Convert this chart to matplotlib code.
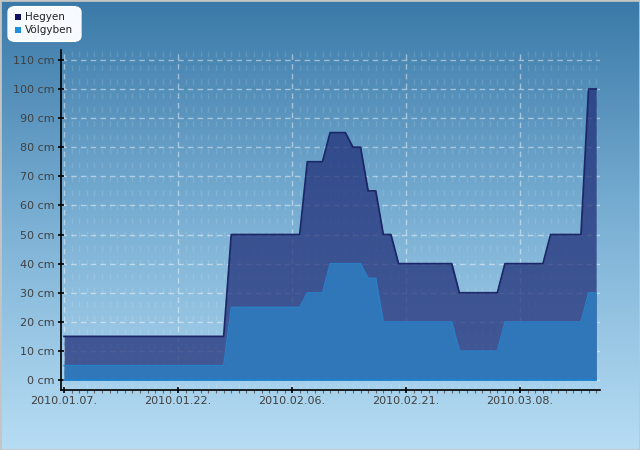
import numpy as np
import matplotlib
matplotlib.use("Agg")
import matplotlib.pyplot as plt
import matplotlib.dates as mdates
from matplotlib.colors import LinearSegmentedColormap
from matplotlib.patches import FancyBboxPatch
import datetime as dt

# ---- data (daily readings, cm) ----
start_date = "2010-01-07"
hegyen = [15] * 22 + [50] * 10 + [75] * 3 + [85] * 3 + [80] * 2 + [65] * 2 + \
         [50] * 2 + [40] * 8 + [30] * 6 + [40] * 6 + [50] * 5 + [100] * 2
volgyben = [5] * 22 + [25] * 10 + [30] * 3 + [40] * 5 + [35] * 2 + \
           [20] * 10 + [10] * 6 + [20] * 11 + [30] * 2
series_names = ["Hegyen", "Völgyben"]
y_ticks = list(range(0, 111, 10))
x_tick_labels = ["2010.01.07.", "2010.01.22.", "2010.02.06.", "2010.02.21.", "2010.03.08."]

d0 = dt.datetime.strptime(start_date, "%Y-%m-%d")
dates = [d0 + dt.timedelta(days=i) for i in range(len(hegyen))]
xnum = mdates.date2num(dates)

fig = plt.figure(figsize=(6.4, 4.5), dpi=100)

# background gradient
bg = fig.add_axes([0, 0, 1, 1], zorder=-10)
cmap = LinearSegmentedColormap.from_list("bg", ["#3a79a8", "#7cb1d5", "#b7ddf4"])
grad = np.linspace(0, 1, 256).reshape(-1, 1)
bg.imshow(grad, aspect="auto", cmap=cmap, extent=[0, 1, 0, 1], origin="upper")
bg.set_axis_off()
bg.add_patch(plt.Rectangle((0, 0), 1, 1, transform=bg.transAxes, fill=False,
                           edgecolor="#c4c4c4", linewidth=2, clip_on=False))

ax = fig.add_axes([61 / 640, 60 / 450, 539 / 640, 340 / 450])
ax.patch.set_alpha(0)

h_fill = "#223079"
v_fill = "#2f79ba"
ax.fill_between(xnum, 0, hegyen, color=h_fill, alpha=0.75, linewidth=0, zorder=2)
ax.plot(xnum, hegyen, color="#1b2767", linewidth=1.3, zorder=3)
ax.fill_between(xnum, 0, volgyben, color=v_fill, alpha=0.96, linewidth=0, zorder=4)
ax.plot(xnum, volgyben, color="#2a7fc6", linewidth=1.0, zorder=5)
ax.plot([xnum[0], xnum[-1]], [0, 0], color="#1c84d4", linewidth=1.2, zorder=5)

ax.set_xlim(xnum[0] - 0.4, xnum[0] + 70.5)
ax.set_ylim(-3.4, 113.4)

ax.set_yticks(y_ticks)
ax.set_yticklabels([f"{v} cm" for v in y_ticks])
major_x = [xnum[0] + 15 * i for i in range(len(x_tick_labels))]
ax.set_xticks(major_x)
ax.set_xticklabels(x_tick_labels)
ax.set_xticks(xnum, minor=True)

for s in ["top", "right"]:
    ax.spines[s].set_visible(False)
for s in ["left", "bottom"]:
    ax.spines[s].set_color("black")
    ax.spines[s].set_linewidth(1.2)
    ax.spines[s].set_zorder(8)

ax.tick_params(axis="both", which="major", direction="inout", length=5, width=1.2,
               colors="black", labelcolor="#404040", labelsize=8)
ax.tick_params(axis="x", which="minor", direction="out", length=2.5, width=0.8,
               colors="#666666")
ax.tick_params(axis="x", which="major", pad=2)
ax.tick_params(axis="y", which="major", pad=2)

ax.set_axisbelow(True)
ax.grid(True, which="major", axis="both", color="white", alpha=0.45,
        linestyle=(0, (4, 3)), linewidth=1)
ax.grid(True, which="minor", axis="x", color="white", alpha=0.12,
        linestyle=(0, (4, 6)), linewidth=1)
for gl in ax.get_xgridlines() + ax.get_ygridlines():
    gl.set_zorder(1)

# legend
bg.add_patch(FancyBboxPatch((10 / 640, 1 - 40 / 450), 69 / 640, 32 / 450,
                            boxstyle="round,pad=0.003,rounding_size=0.012",
                            facecolor="#f7fbff", edgecolor="white", linewidth=1,
                            transform=bg.transAxes, zorder=5))
leg_colors = ["#101060", "#1e90dc"]
for i, (name, c) in enumerate(zip(series_names, leg_colors)):
    yy = 1 - (17 + 13 * i) / 450
    bg.add_patch(plt.Rectangle((15 / 640, yy - 3.2 / 450), 6 / 640, 6 / 450,
                               facecolor=c, edgecolor="none",
                               transform=bg.transAxes, zorder=6))
    bg.text(25 / 640, yy, name, transform=bg.transAxes, fontsize=7.5,
            color="#222222", va="center", ha="left", zorder=7)

fig.savefig("out.png", dpi=100)
